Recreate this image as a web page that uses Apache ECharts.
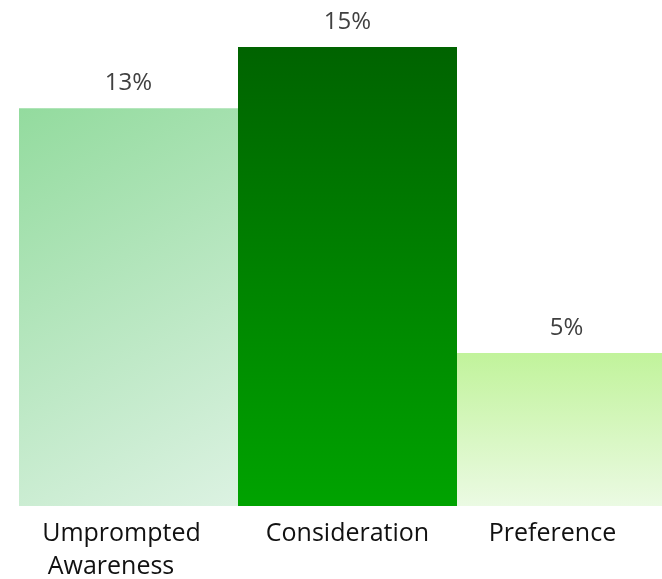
<!DOCTYPE html>
<html>
<head>
<meta charset="utf-8">
<script src="https://cdn.jsdelivr.net/npm/echarts@6/dist/echarts.min.js"></script>
<style>
html,body{margin:0;padding:0;background:#fff;}
#chart{width:662px;height:579px;}
</style>
</head>
<body>
<div id="chart"></div>
<script>
const categories = ['Umprompted\nAwareness', 'Consideration', 'Preference'];
const values = [13, 15, 5];
// per-line right padding (px) to nudge each label line left, as in the reference
const lineShift = [[14, 35], [0], [28]];

const colors = [
  new echarts.graphic.LinearGradient(0, 0, 1, 1, [
    {offset: 0, color: '#93db9e'}, {offset: 1, color: '#dcf2e2'}]),
  new echarts.graphic.LinearGradient(0, 0, 0, 1, [
    {offset: 0, color: '#006300'}, {offset: 1, color: '#00a300'}]),
  new echarts.graphic.LinearGradient(0, 0, 0, 1, [
    {offset: 0, color: '#c1f39b'}, {offset: 1, color: '#ebfae3'}])
];

const rich = {};
[0, 14, 28, 35].forEach(p => {
  rich['p' + p] = {
    fontFamily: 'Open Sans', fontSize: 25, lineHeight: 33, color: '#111',
    padding: [0, p, 0, 0]
  };
});

const chart = echarts.init(document.getElementById('chart'));
chart.setOption({
  animation: false,
  grid: {left: 19, top: 47, width: 657, height: 459, containLabel: false, outerBoundsMode: 'none'},
  xAxis: {
    type: 'category',
    data: categories,
    axisLine: {show: false},
    axisTick: {show: false},
    axisLabel: {
      interval: 0,
      margin: 11,
      fontFamily: 'Open Sans',
      fontSize: 25,
      lineHeight: 33,
      color: '#111',
      formatter: function (value, idx) {
        return value.split('\n').map((line, li) =>
          '{p' + lineShift[idx][li] + '|' + line + '}').join('\n');
      },
      rich: rich
    }
  },
  yAxis: {
    type: 'value', min: 0, max: 15,
    show: false, splitLine: {show: false}
  },
  series: [{
    type: 'bar',
    barCategoryGap: 0,
    data: values.map((v, i) => ({value: v, itemStyle: {color: colors[i]}})),
    label: {
      show: true,
      position: 'top',
      distance: 13,
      formatter: '{c}%',
      fontFamily: 'Open Sans',
      fontSize: 24,
      color: '#404040'
    }
  }]
});
</script>
</body>
</html>
